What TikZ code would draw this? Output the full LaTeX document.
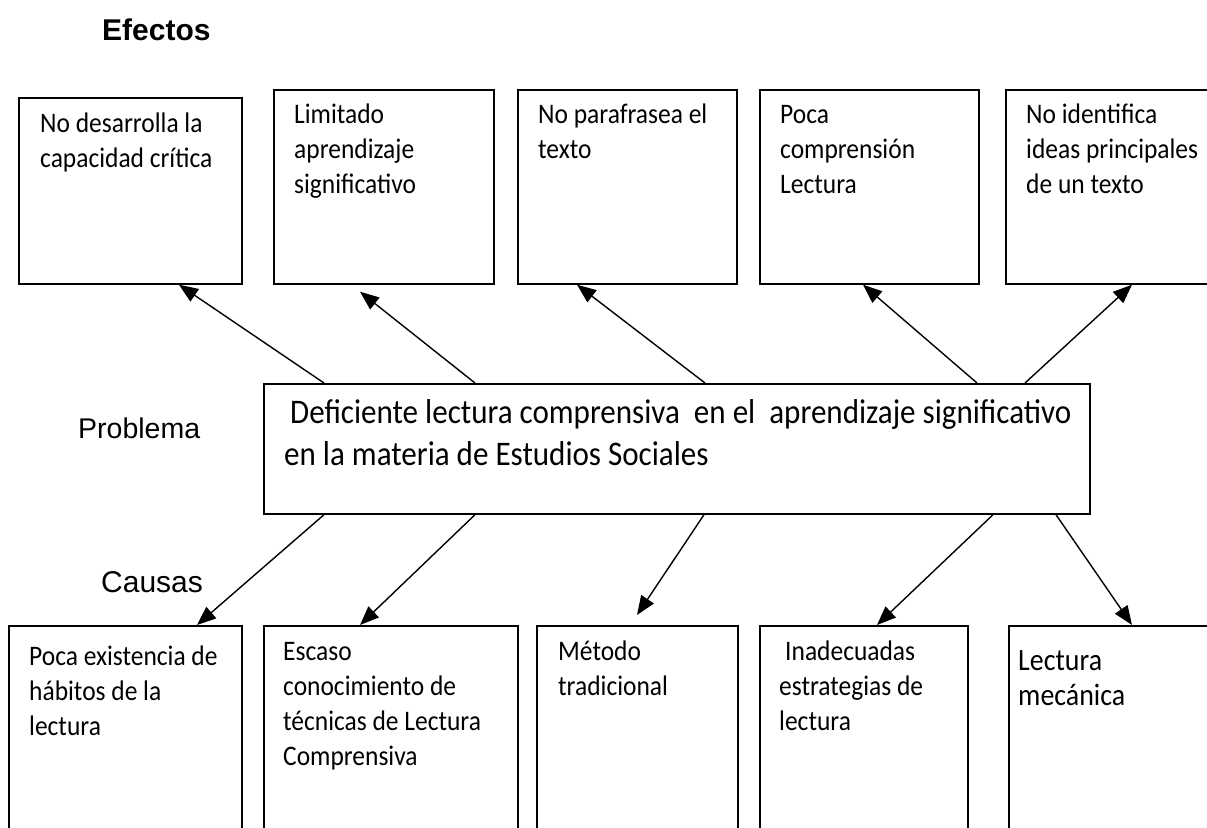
\documentclass[tikz,border=0pt]{standalone}
\usepackage{fontspec}
\setmainfont{Carlito}[FakeStretch=0.9]
\newfontfamily\headfont{Liberation Sans}
\usepackage{tikz}
\usetikzlibrary{arrows.meta}

\begin{document}
\begin{tikzpicture}[x=1pt, y=-1pt,
	caja/.style={draw, line width=1.7pt, fill=white, anchor=north west, inner sep=0pt},
	texto/.style={anchor=base west, inner sep=0pt, align=flush left, text width=240pt, font=\fontsize{28.3}{35}\selectfont},
	flecha/.style={-{Triangle[length=19pt,width=15pt]}, line width=1.4pt},
	titulo/.style={anchor=base west, inner sep=0pt},
	]
	\clip (0,0) rectangle (1207,827);
	\node[titulo, font=\headfont\bfseries\fontsize{30}{36}\selectfont] (efectos) at (102,40) {Efectos};
	\node[titulo, font=\headfont\fontsize{28.5}{34}\selectfont] (problema) at (78,438) {Problema};
	\node[titulo, font=\headfont\fontsize{30}{36}\selectfont] (causas) at (101,592) {Causas};

	\node[caja, minimum width=223pt, minimum height=186pt] (e1) at (18,97) {};
	\node[caja, minimum width=220pt, minimum height=194pt] (e2) at (273,89) {};
	\node[caja, minimum width=219pt, minimum height=194pt] (e3) at (517,89) {};
	\node[caja, minimum width=219pt, minimum height=194pt] (e4) at (759,89) {};
	\node[caja, minimum width=250pt, minimum height=194pt] (e5) at (1005,89) {};
	\node[texto] (te1) at ([xshift=22pt,yshift=-35pt]e1.north west) {No desarrolla la\\capacidad crítica};
	\node[texto] (te2) at ([xshift=21pt,yshift=-34pt]e2.north west) {Limitado\\aprendizaje\\significativo};
	\node[texto] (te3) at ([xshift=21pt,yshift=-34pt]e3.north west) {No parafrasea el\\texto};
	\node[texto] (te4) at ([xshift=21pt,yshift=-34pt]e4.north west) {Poca\\comprensión\\Lectura};
	\node[texto] (te5) at ([xshift=21pt,yshift=-34pt]e5.north west) {No identifica\\ideas principales\\de un texto};

	\node[caja, minimum width=826pt, minimum height=130pt] (prob) at (263,383) {};
	\node[texto, text width=850pt, font=\fontsize{34.5}{42}\selectfont] (tprob) at ([xshift=21pt,yshift=-40pt]prob.north west)
		{\hspace*{6pt}Deficiente lectura comprensiva\ \ en el\ \ aprendizaje significativo\\en la materia de Estudios Sociales};

	\node[caja, minimum width=233pt, minimum height=250pt] (c1) at (8,625) {};
	\node[caja, minimum width=254pt, minimum height=250pt, line width=2.3pt] (c2) at (263,625) {};
	\node[caja, minimum width=201pt, minimum height=250pt] (c3) at (536,625) {};
	\node[caja, minimum width=208pt, minimum height=250pt] (c4) at (759,625) {};
	\node[caja, minimum width=250pt, minimum height=250pt] (c5) at (1008,625) {};
	\node[texto] (tc1) at ([xshift=21pt,yshift=-40pt]c1.north west) {Poca existencia de\\hábitos de la\\lectura};
	\node[texto] (tc2) at ([xshift=20pt,yshift=-35pt]c2.north west) {Escaso\\conocimiento de\\técnicas de Lectura\\Comprensiva};
	\node[texto] (tc3) at ([xshift=22pt,yshift=-35pt]c3.north west) {Método\\tradicional};
	\node[texto] (tc4) at ([xshift=20pt,yshift=-35pt]c4.north west) {\hspace*{6pt}Inadecuadas\\estrategias de\\lectura};
	\node[texto, font=\fontsize{31}{35}\selectfont] (tc5) at ([xshift=10pt,yshift=-45pt]c5.north west) {Lectura\\mecánica};

	\draw[flecha] ([xshift=61pt]prob.north west) -- ([xshift=161pt]e1.south west);
	\draw[flecha] ([xshift=212pt]prob.north west) -- ([xshift=87pt,yshift=-7pt]e2.south west);
	\draw[flecha] ([xshift=442pt]prob.north west) -- ([xshift=60pt]e3.south west);
	\draw[flecha] ([xshift=714pt]prob.north west) -- ([xshift=104pt]e4.south west);
	\draw[flecha] ([xshift=762pt]prob.north west) -- ([xshift=127pt]e5.south west);

	\draw[flecha] ([xshift=61pt]prob.south west) -- ([xshift=189pt]c1.north west);
	\draw[flecha] ([xshift=212pt]prob.south west) -- ([xshift=97pt]c2.north west);
	\draw[flecha] ([xshift=441pt]prob.south west) -- ([xshift=101pt,yshift=10pt]c3.north west);
	\draw[flecha] ([xshift=730pt]prob.south west) -- ([xshift=118pt]c4.north west);
	\draw[flecha] ([xshift=793pt]prob.south west) -- ([xshift=124pt]c5.north west);
\end{tikzpicture}
\end{document}
